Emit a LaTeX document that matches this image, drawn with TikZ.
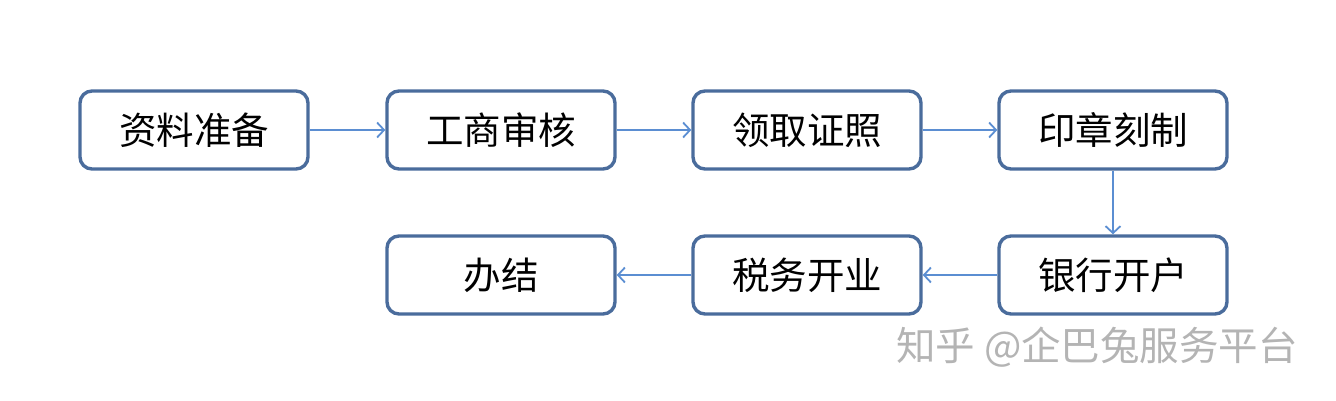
\documentclass[tikz,border=0pt]{standalone}
\usepackage{fontspec}
\newfontfamily\cjk{Noto Sans CJK SC}
\usetikzlibrary{arrows.meta}
\definecolor{boxline}{HTML}{4A6C9C}
\definecolor{arrowline}{HTML}{5B8ED2}
\definecolor{wm}{HTML}{B4B4B4}
\begin{document}
\begin{tikzpicture}[x=1pt,y=-1pt,
  stepbox/.style={draw=boxline,line width=3.4pt,rounded corners=12pt,minimum width=228pt,minimum height=78pt,inner sep=0pt,font=\cjk\fontsize{37.5}{40}\selectfont,fill=white},
  flow/.style={draw=arrowline,line width=1.8pt,-{Straight Barb[length=7pt,width=15pt,line width=1.8pt]}}]
\useasboundingbox (0,0) rectangle (1336,401);
\node[stepbox] (a) at (194,130) {资料准备};
\node[stepbox] (b) at (501,130) {工商审核};
\node[stepbox] (c) at (807,130) {领取证照};
\node[stepbox] (d) at (1113,130) {印章刻制};
\node[stepbox] (e) at (1113,275) {银行开户};
\node[stepbox] (f) at (807,275) {税务开业};
\node[stepbox] (g) at (501,275) {办结};
\draw[flow] (a) -- (b);
\draw[flow] (b) -- (c);
\draw[flow] (c) -- (d);
\draw[flow] (d) -- (e);
\draw[flow] (e) -- (f);
\draw[flow] (f) -- (g);
\node[text=wm,font=\cjk\fontsize{39.5}{44}\selectfont,anchor=west,inner sep=0pt] (w) at (896,347) {知乎 @企巴兔服务平台};
\end{tikzpicture}
\end{document}
